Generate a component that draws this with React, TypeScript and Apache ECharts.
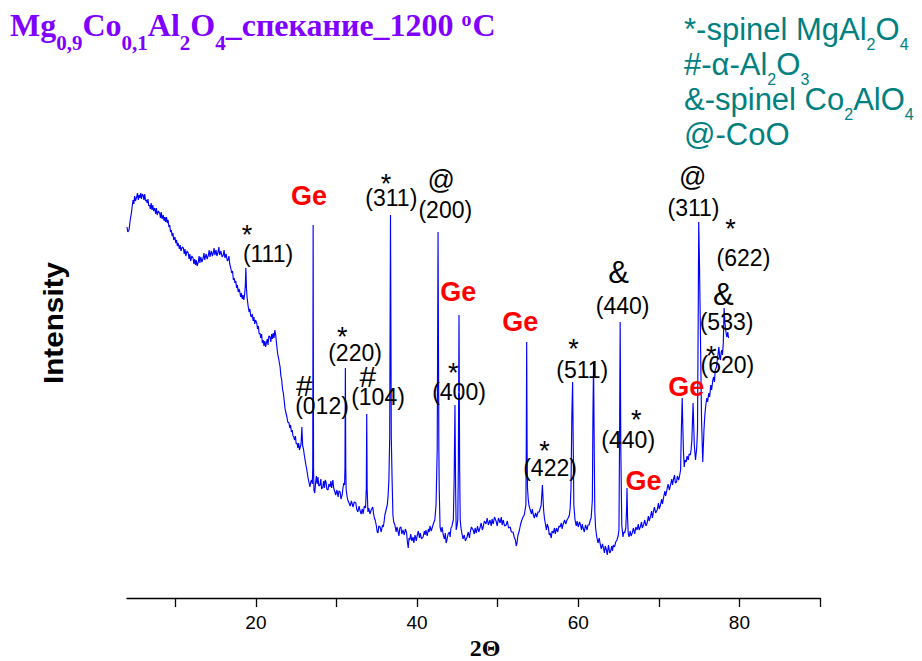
import React, { useEffect, useRef } from "react";
import * as echarts from "echarts";

// XRD pattern: [2θ, intensity (arb. units)]
const lowAngle: [number, number][] = [
  [4.0,371],[4.1,366],[4.25,368],[4.4,378],[4.55,385],[4.65,392],[4.75,398],[4.85,394],[4.95,402],[5.05,397],[5.2,401],[5.3,405],[5.4,398],[5.5,403],[5.6,400],[5.7,405],[5.8,399],[5.9,404],[6.0,403],[6.1,398],[6.2,404],[6.3,397],[6.4,398],[6.5,395],[6.6,399],[6.7,392],[6.8,393],[6.9,389],[7.0,395],[7.1,388],[7.2,393],[7.3,387],[7.45,390],[7.55,384],[7.65,390],[7.75,383],[7.9,387],[8.05,385],[8.15,380],[8.25,386],[8.35,379],[8.5,383],[8.6,377],[8.7,381],[8.8,376],[8.9,381],[9.0,375],[9.1,378],[9.2,371],[9.3,373],[9.4,366],[9.5,368],[9.6,362],[9.7,365],[9.8,358],[9.95,361],[10.05,355],[10.15,358],[10.25,352],[10.35,355],[10.5,349],[10.6,353],[10.7,347],[10.85,351],[11.0,350],[11.1,344],[11.2,349],[11.3,342],[11.45,347],[11.6,345],[11.7,339],[11.8,344],[11.9,337],[12.05,342],[12.2,340],[12.3,334],[12.4,339],[12.5,333],[12.6,338],[12.7,332],[12.85,336],[12.95,342],[13.05,335],[13.15,341],[13.3,336],[13.45,340],[13.55,345],[13.65,338],[13.8,344],[13.95,339],[14.1,343],[14.2,348],[14.3,341],[14.45,347],[14.6,342],[14.7,345],[14.8,350],[14.9,343],[15.05,348],[15.15,342],[15.3,346],[15.4,351],[15.5,343],[15.65,347],[15.8,341],[15.95,343],[16.05,348],[16.15,340],[16.3,344],[16.45,337],[16.55,338],[16.65,342],[16.75,334],[16.85,331],[17.0,325],[17.1,327],[17.2,318],[17.3,320],[17.4,315],[17.5,317],[17.6,310],[17.7,313],[17.8,306],[17.9,309],[18.0,306],[18.1,301],[18.2,305],[18.3,299],[18.4,303],[18.5,298],[18.6,304],[18.68,312],[18.75,330],[18.82,310],[18.9,301],[19.0,294],[19.05,291],[19.15,286],[19.25,289],[19.35,282],[19.45,281],[19.55,284],[19.65,277],[19.75,281],[19.85,274],[19.95,278],[20.1,275],[20.2,269],[20.3,272],[20.4,264],[20.5,265],[20.6,260],[20.7,264],[20.8,255],[20.9,258],[21.0,252],[21.1,257],[21.2,251],[21.3,255],[21.4,259],[21.5,253],[21.6,262],[21.75,261],[21.85,256],[21.95,264],[22.05,259],[22.15,265],[22.25,260],[22.35,268],[22.45,263],[22.55,255],[22.7,244],[22.85,238],[23.0,231],[23.1,222],[23.2,218],[23.3,209],[23.4,205],
  [23.5,198],[23.6,190],[23.7,186],[23.85,181],[23.95,176],[24.1,175],[24.2,170],[24.3,173],[24.4,166],[24.5,168],[24.6,162],[24.7,161],[24.8,158],[24.9,162],[25.0,154],[25.1,155],[25.2,150],[25.3,155],[25.4,148],[25.5,151],[25.6,154],[25.7,171],[25.8,152],[25.9,149],[26.0,143],[26.1,138],[26.2,133],[26.3,129],[26.45,121],[26.55,117],[26.7,111],[26.8,116],[26.9,118],[27.0,114],[27.05,130],[27.1,373],[27.15,130],[27.2,108],[27.3,105],[27.4,115],[27.5,122],[27.6,114],[27.7,121],[27.8,112],[27.95,113]
];

const midAngle: [number, number][] = [
  [28.05,119],[28.15,109],[28.3,111],[28.4,117],[28.5,110],[28.6,118],[28.7,116],[28.8,109],[28.95,108],[29.05,114],[29.2,111],[29.3,117],[29.4,110],[29.55,118],[29.65,110],[29.8,106],[29.9,103],[30.05,108],[30.2,101],[30.3,107],[30.45,106],[30.55,99],[30.7,103],[30.8,110],[30.9,115],[31.0,113],[31.05,130],[31.1,230],[31.15,130],[31.2,108],[31.3,102],[31.4,98],[31.55,95],[31.7,92],[31.85,97],[32.05,91],[32.2,96],[32.4,95],[32.5,89],[32.65,86],[32.8,92],[32.9,88],[33.05,84],[33.2,89],[33.3,84],[33.45,92],[33.6,90],[33.7,110],[33.75,184],[33.8,110],[33.9,86],[34.0,90],[34.15,84],[34.3,88],[34.5,91],[34.6,84],[34.7,80],[34.8,78],[34.95,72],[35.05,66],[35.15,65],[35.25,72],[35.4,71],[35.55,66],[35.7,73],[35.8,71],[35.9,76],[36.0,83],[36.15,88],[36.3,93],[36.4,102],[36.5,118],[36.6,160],[36.7,383],[36.8,160],[36.9,118],[37.0,83],[37.1,76],[37.25,73],[37.4,66],[37.5,71],[37.6,68],[37.75,62],[37.85,70],[38.0,71],[38.1,64],[38.25,68],[38.4,63],[38.55,69],[38.7,65],[38.8,56],[38.9,50],[39.0,60],[39.1,58],[39.2,64],[39.35,57],[39.5,61],[39.6,55],[39.75,63],[39.9,57],[40.0,62],[40.15,67],[40.3,60],[40.4,65],[40.55,59],[40.75,61],[40.9,67],[41.0,63],[41.1,68],[41.25,62],[41.4,69],[41.5,66],[41.6,72],[41.75,67],[41.9,71],[42.05,75],[42.2,78],[42.35,93],[42.5,150],[42.6,366],[42.7,150],[42.75,108],[42.85,71],[43.0,66],[43.1,71],[43.25,63],[43.4,59],[43.5,65],[43.6,55],[43.7,58],[43.85,64],[44.0,66],[44.1,61],[44.2,70],[44.3,71],[44.4,75],[44.5,78],[44.6,120],[44.7,193],[44.78,110],[44.85,68],[44.95,72],[45.05,78],[45.12,130],[45.2,283],[45.28,130],[45.35,78],[45.45,70],[45.55,65],[45.7,59],[45.85,63],[46.0,57],[46.2,61],[46.35,66],[46.5,60],[46.6,66],[46.75,71],[46.95,68],[47.1,64],[47.2,70],[47.35,65],[47.5,72],[47.65,66],[47.8,70],[47.95,75],[48.1,68],[48.2,71],[48.35,77],[48.55,74],[48.7,80],[48.85,73],[49.05,78],[49.2,72],[49.3,79],[49.45,74],[49.6,81],[49.8,77],[49.95,72]
];

const highAngle: [number, number][] = [
  [50.1,80],[50.3,75],[50.45,81],[50.55,73],[50.7,78],[50.85,72],[51.05,73],[51.2,77],[51.35,70],[51.55,71],[51.7,66],[51.9,66],[52.05,61],[52.2,58],[52.3,52],[52.4,55],[52.5,62],[52.6,65],[52.7,68],[52.85,74],[53.0,78],[53.15,81],[53.3,83],[53.4,88],[53.5,93],[53.55,150],[53.6,256],[53.65,150],[53.7,110],[53.8,98],[53.9,92],[54.05,88],[54.2,84],[54.3,89],[54.4,84],[54.55,80],[54.7,85],[54.85,81],[55.0,86],[55.15,86],[55.3,90],[55.4,93],[55.55,113],[55.7,88],[55.8,80],[55.9,75],[56.05,68],[56.15,74],[56.3,70],[56.4,63],[56.5,65],[56.65,60],[56.75,67],[56.9,65],[57.05,70],[57.15,64],[57.3,70],[57.45,66],[57.6,72],[57.75,71],[57.9,75],[58.0,69],[58.1,73],[58.3,78],[58.45,74],[58.6,78],[58.75,80],[58.9,83],[59.0,90],[59.1,110],[59.2,180],[59.3,216],[59.38,150],[59.45,93],[59.6,78],[59.75,72],[59.85,77],[60.0,71],[60.15,76],[60.25,74],[60.4,68],[60.5,74],[60.6,70],[60.75,66],[60.9,73],[61.1,68],[61.2,73],[61.35,73],[61.5,78],[61.6,80],[61.75,98],[61.82,180],[61.9,236],[61.98,150],[62.05,88],[62.15,70],[62.3,61],[62.45,55],[62.6,60],[62.7,55],[62.85,49],[63.0,54],[63.1,51],[63.25,45],[63.35,52],[63.5,48],[63.6,43],[63.75,53],[63.9,45],[64.0,46],[64.15,52],[64.25,47],[64.35,53],[64.5,51],[64.65,56],[64.8,58],[64.95,62],[65.05,68],[65.12,150],[65.2,276],[65.28,150],[65.4,73],[65.55,61],[65.65,66],[65.75,65],[65.9,70],[66.0,90],[66.05,110],[66.12,80],[66.2,65],[66.3,61],[66.45,67],[66.55,62],[66.7,65],[66.85,70],[67.0,64],[67.15,71],[67.3,68],[67.45,74],[67.55,68],[67.7,71],[67.85,76],[67.95,70],[68.1,73],[68.25,78],[68.4,72],[68.55,75],[68.7,82],[68.8,77],[68.95,81],[69.1,87],[69.2,80],[69.3,85],[69.45,91],[69.6,85],[69.8,88],[69.95,95],[70.05,89],[70.2,93],[70.35,99],[70.45,94],[70.6,101],[70.75,107],[70.85,102],[71.0,108],[71.15,114],[71.3,108],[71.45,113],[71.6,119],[71.7,113],[71.8,118],[71.95,123],[72.05,115],[72.2,116],[72.3,122],[72.45,118],[72.55,121],[72.7,128],[72.8,170],[72.9,200],[72.98,170],[73.05,148],[73.15,131],[73.25,138],[73.4,136],[73.5,142],[73.65,138],[73.75,144],[73.9,143],[74.0,148],[74.1,158],[74.25,195],[74.4,153],[74.55,138],[74.7,150],[74.8,168],[74.9,300],[74.95,376],[75.05,330],[75.15,271],[75.3,178],[75.45,136],[75.6,168],[75.7,182],[75.8,191],[75.95,200],[76.05,196],[76.2,205],[76.3,201],[76.45,213],[76.55,208],[76.7,218],[76.8,221],[76.9,216],[77.0,228],[77.15,231],[77.25,238],[77.35,244],[77.45,251],[77.55,241],[77.65,238],[77.72,245],[77.8,248],[77.9,243],[78.0,255],[78.1,290],[78.2,275],[78.3,268],[78.4,262],[78.45,261],[78.55,266],[78.65,260]
];

// Axis ticks
const tickValues = [10, 20, 30, 40, 50, 60, 70, 80, 90];
const tickLabels = [20, 40, 60, 80];

// Phase marks: [symbol, 2θ, intensity position]
const phaseMarks: [string, number, number][] = [
  ["*", 18.9, 363], ["*", 30.7, 261], ["#", 26.0, 213], ["#", 33.9, 222],
  ["*", 36.15, 414], ["@", 43.0, 418], ["*", 44.5, 225], ["*", 59.4, 249],
  ["&", 65.0, 326], ["*", 55.8, 147], ["*", 67.2, 178], ["@", 74.2, 421],
  ["*", 78.9, 369], ["&", 78.0, 304], ["*", 76.5, 242]
];

// Miller indices: [text, 2θ, intensity position]
const hklLabels: [string, number, number][] = [
  ["(111)", 21.5, 344], ["(220)", 32.3, 245], ["(012)", 28.2, 192], ["(104)", 35.15, 201],
  ["(311)", 36.8, 400], ["(200)", 43.5, 388], ["(400)", 45.2, 206], ["(511)", 60.5, 228],
  ["(440)", 65.5, 292], ["(422)", 56.5, 130], ["(440)", 66.2, 158], ["(311)", 74.3, 390],
  ["(622)", 80.5, 340], ["(533)", 78.4, 276], ["(620)", 78.5, 233]
];

// Ge reference peaks labels: [2θ, intensity position]
const geLabels: [number, number][] = [
  [26.6, 402], [45.1, 306], [52.8, 276], [68.1, 117], [73.4, 211]
];

const SANS = "'Liberation Sans', Arial, Helvetica, sans-serif";
const SERIF = "'Liberation Serif', 'Times New Roman', serif";

const markSize: Record<string, number> = { "*": 27, "#": 30, "@": 27, "&": 31 };

export default function App() {
  const ref = useRef<HTMLDivElement>(null);

  useEffect(() => {
    if (!ref.current) return;
    const chart = echarts.init(ref.current, null, { renderer: "svg" });

    const pattern = [...lowAngle, ...midAngle, ...highAngle];

    const plain = { textBorderWidth: 0, textBorderColor: "transparent", textShadowBlur: 0, opacity: 1 };
    const annotations: any[] = [];
    phaseMarks.forEach(([t, x, y]) =>
      annotations.push({
        value: [x, y],
        label: { ...plain, formatter: t, fontSize: markSize[t], color: "#000", fontFamily: SANS }
      })
    );
    hklLabels.forEach(([t, x, y]) =>
      annotations.push({
        value: [x, y],
        label: { ...plain, formatter: t, fontSize: 23, color: "#000", fontFamily: SANS }
      })
    );
    geLabels.forEach(([x, y]) =>
      annotations.push({
        value: [x, y],
        label: { ...plain, formatter: "Ge", fontSize: 27, fontWeight: "bold", color: "#ff0000", fontFamily: SANS }
      })
    );

    const titleColor = "#8000ff";
    const legendColor = "#008080";

    chart.setOption({
      animation: false,
      backgroundColor: "#fff",
      grid: { left: 127, right: 102, top: 98, bottom: 63, containLabel: false },
      xAxis: {
        type: "value",
        min: 4,
        max: 90,
        axisLine: { show: true, lineStyle: { color: "#000", width: 1.3 } },
        axisTick: { show: true, customValues: tickValues, length: 9, inside: false, lineStyle: { color: "#000", width: 1.3 } },
        axisLabel: { show: true, customValues: tickLabels, fontSize: 19, color: "#000", fontFamily: SANS, margin: 15 },
        splitLine: { show: false }
      },
      yAxis: { type: "value", min: 0, max: 500, show: false },
      series: [
        {
          type: "line",
          data: pattern,
          showSymbol: false,
          symbol: "none",
          lineStyle: { color: "#0000ff", width: 1.15 },
          itemStyle: { color: "#0000ff" },
          silent: true,
          z: 2
        },
        {
          type: "scatter",
          data: annotations,
          symbolSize: 1,
          itemStyle: { color: "#fff", opacity: 1 },
          label: { show: true, position: "inside", textBorderWidth: 0, opacity: 1 },
          silent: true,
          z: 5
        }
      ],
      graphic: [
        {
          type: "text",
          x: 10,
          y: 9,
          style: {
            text: "{m|Mg}{s|0,9}{m|Co}{s|0,1}{m|Al}{s|2}{m|O}{s|4}{m|_спекание_1200 }{p|o}{m|C}",
            fill: titleColor,
            textAlign: "left",
            textVerticalAlign: "top",
            align: "left",
            verticalAlign: "top",
            rich: {
              m: { fontSize: 32, fontFamily: SERIF, fontWeight: "bold", fill: titleColor, lineHeight: 40, verticalAlign: "top" },
              s: { fontSize: 21, fontFamily: SERIF, fontWeight: "bold", fill: titleColor, lineHeight: 40, verticalAlign: "top", padding: [23, 0, 0, 0] },
              p: { fontSize: 20, fontFamily: SERIF, fontWeight: "bold", fill: titleColor, lineHeight: 40, verticalAlign: "top", padding: [0, 1, 0, 0] }
            }
          }
        },
        {
          type: "text",
          x: 684,
          y: 14,
          style: {
            text:
              "{m|*-spinel MgAl}{s|2}{m|O}{s|4}\n{m|#-α-Al}{s|2}{m|O}{s|3}\n{m|&-spinel Co}{s|2}{m|AlO}{s|4}\n{m|@-CoO}",
            fill: legendColor,
            textAlign: "left",
            textVerticalAlign: "top",
            align: "left",
            verticalAlign: "top",
            rich: {
              m: { fontSize: 31, fontFamily: SANS, fill: legendColor, lineHeight: 35, verticalAlign: "top" },
              s: { fontSize: 16, fontFamily: SANS, fill: legendColor, lineHeight: 35, verticalAlign: "top", padding: [22, 0, 0, 0] }
            }
          }
        },
        {
          type: "text",
          x: 53,
          y: 323,
          rotation: Math.PI / 2,
          scaleX: 1.1,
          style: {
            text: "Intensity",
            fill: "#000",
            fontSize: 27,
            fontWeight: "bold",
            fontFamily: SANS,
            textAlign: "center",
            textVerticalAlign: "middle",
            align: "center",
            verticalAlign: "middle"
          }
        },
        {
          type: "text",
          x: 485,
          y: 648,
          style: {
            text: "2Θ",
            fill: "#000",
            fontSize: 24,
            fontWeight: "bold",
            fontFamily: SERIF,
            textAlign: "center",
            textVerticalAlign: "middle",
            align: "center",
            verticalAlign: "middle"
          }
        }
      ]
    });

    return () => chart.dispose();
  }, []);

  return (
    <div
      ref={ref}
      style={{ position: "fixed", left: 0, top: 0, width: 922, height: 661, background: "#fff" }}
    />
  );
}
